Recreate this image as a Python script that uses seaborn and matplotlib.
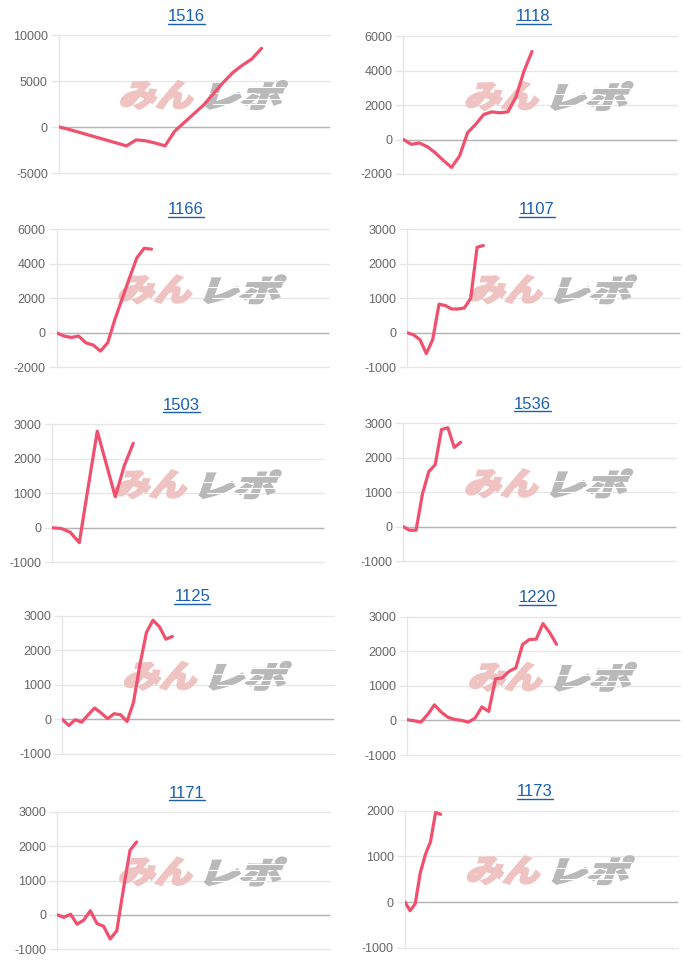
import numpy as np
import pandas as pd
import matplotlib
matplotlib.use("Agg")
import matplotlib.pyplot as plt
import seaborn as sns
from matplotlib.textpath import TextPath
from matplotlib.patches import PathPatch
from matplotlib.font_manager import FontProperties
from matplotlib.transforms import Affine2D, IdentityTransform
from matplotlib.lines import Line2D

sns.set_theme(style="white")
plt.rcParams["font.family"] = ["Liberation Sans", "DejaVu Sans"]

# ---------------- data ----------------
titles = ["1516", "1118", "1166", "1107", "1503", "1536", "1125", "1220", "1171", "1173"]

v1516 = [0, -250, -550, -850, -1150, -1450, -1750, -2050, -1400, -1500, -1750, -2050,
         -450, 500, 1450, 2400, 3600, 4800, 5900, 6700, 7400, 8550]
v1118 = [0, -280, -200, -420, -780, -1220, -1620, -950, 400, 880, 1450, 1600, 1550,
         1600, 2450, 3950, 5100]
v1166 = [0, -190, -270, -190, -580, -710, -1060, -580, 800, 2000, 3200, 4350, 4900, 4850]
v1107 = [0, -60, -200, -600, -200, 830, 790, 690, 690, 720, 1000, 2480, 2530]
v1503 = [0, -20, -130, -430, 1200, 2800, 1850, 900, 1800, 2450]
v1536 = [0, -100, -100, 950, 1600, 1800, 2820, 2870, 2300, 2450]
v1125 = [0, -175, -10, -80, 135, 330, 185, 20, 165, 135, -60, 500, 1600, 2520, 2870,
         2680, 2320, 2400]
v1220 = [20, -10, -50, 170, 450, 240, 90, 30, 0, -50, 70, 390, 260, 1200, 1230, 1420,
         1520, 2200, 2340, 2350, 2800, 2540, 2200]
v1171 = [0, -70, 20, -270, -150, 120, -250, -330, -700, -460, 750, 1880, 2120]
v1173 = [0, -190, -40, 640, 1040, 1320, 1960, 1920]

series = [v1516, v1118, v1166, v1107, v1503, v1536, v1125, v1220, v1171, v1173]

y_ticks = [
    [-5000, 0, 5000, 10000],
    [-2000, 0, 2000, 4000, 6000],
    [-2000, 0, 2000, 4000, 6000],
    [-1000, 0, 1000, 2000, 3000],
    [-1000, 0, 1000, 2000, 3000],
    [-1000, 0, 1000, 2000, 3000],
    [-1000, 0, 1000, 2000, 3000],
    [-1000, 0, 1000, 2000, 3000],
    [-1000, 0, 1000, 2000, 3000],
    [-1000, 0, 1000, 2000],
]

# ---------------- layout (pixels) ----------------
W, H = 700, 964
x_span = [28.1, 34, 37.4, 43, 30.2, 42.8, 42, 40.2, 41.25, 53.5]
rects = [(59, 330, 35, 173), (403.3, 676.7, 36, 174),
         (56.7, 329.3, 229.3, 367.3), (407.3, 680, 229.3, 367.3),
         (52.3, 324, 424.3, 562.3), (403.3, 676, 423.3, 561.3),
         (62.3, 334.3, 615.7, 754), (407.3, 680, 616.7, 755),
         (57.3, 330, 811.7, 949.3), (405, 677.7, 810.7, 947.7)]
title_pos = [(186.7, 16.7), (533.3, 16.7), (185.7, 210), (536.7, 210),
             (181.7, 405), (532.7, 404), (192.3, 596.7), (537.3, 597.7),
             (186.7, 793.3), (535, 791.7)]

LINE_COLOR = "#f0506e"
GRID = "#e6e6e6"
ZERO = "#b4b4b4"
TITLE_COLOR = "#1a5fb4"

fig = plt.figure(figsize=(W / 100, H / 100), dpi=100)
fig.patch.set_facecolor("white")

jp_font = FontProperties(family="Noto Sans CJK JP", weight="heavy")


def word_patch(text, x0, x1, y0, y1, color):
    """Watermark word fitted to pixel box (display coords, y up)."""
    p = TextPath((0, 0), text, size=10, prop=jp_font)
    p = p.transformed(Affine2D().skew_deg(14, 0))
    ext = p.get_extents()
    tr = (Affine2D().translate(-ext.x0, -ext.y0)
          .scale((x1 - x0) / ext.width, (y1 - y0) / ext.height)
          .translate(x0, y0))
    return PathPatch(p.transformed(tr), facecolor=color, edgecolor=color,
                     linewidth=1.5, joinstyle="miter",
                     transform=IdentityTransform(), zorder=1.5, clip_on=False)


axes = []
for i, vals in enumerate(series):
    l, r, t, b = rects[i]
    ax = fig.add_axes([l / W, 1 - b / H, (r - l) / W, (b - t) / H])
    axes.append(ax)
    df = pd.DataFrame({"x": np.arange(len(vals)), "y": vals})
    sns.lineplot(data=df, x="x", y="y", ax=ax, color=LINE_COLOR, linewidth=2.3,
                 zorder=3)
    ticks = y_ticks[i]
    ax.set_ylim(ticks[0], ticks[-1])
    ax.set_xlim(0, x_span[i])
    ax.set_yticks(ticks)
    ax.set_yticklabels([str(v) for v in ticks])
    ax.set_xticks([])
    ax.set_xlabel("")
    ax.set_ylabel("")
    ax.yaxis.grid(True, color=GRID, linewidth=1)
    ax.set_axisbelow(True)
    ax.axhline(0, color=ZERO, linewidth=1, zorder=1)
    for s in ["top", "right", "bottom"]:
        ax.spines[s].set_visible(False)
    ax.spines["left"].set_color(GRID)
    ax.spines["left"].set_linewidth(1)
    ax.tick_params(axis="y", length=6, width=1, color=GRID, labelcolor="#666666",
                   labelsize=9, pad=2, left=True)
    for gl in ax.get_ygridlines():
        gl.set_clip_on(False)

    # watermark
    cx = (l + r) / 2 + 9.5
    cy = H - ((t + b) / 2 - 9)
    ax.add_patch(word_patch("みん", cx - 83, cx - 11, cy - 14, cy + 14, "#f0c3c3"))
    ax.add_patch(word_patch("レポ", cx + 2, cx + 83, cy - 14, cy + 14, "#b9b9b9"))
    for k, (dy, a, bb) in enumerate([(8, 0.25, 0.95), (2, 0.05, 0.6), (-4, 0.4, 1.0),
                                      (-9, 0.1, 0.75)]):
        ax.add_artist(Line2D([cx + 1 + 83 * a, cx + 1 + 83 * bb], [cy + dy, cy + dy],
                             color="white", linewidth=0.8,
                             transform=IdentityTransform(), zorder=1.6))

    tx, ty = title_pos[i]
    fig.text(tx / W, 1 - ty / H, titles[i], ha="center", va="center",
             fontsize=12, color=TITLE_COLOR)

fig.canvas.draw()
renderer = fig.canvas.get_renderer()
for txt in list(fig.texts):
    bb = txt.get_window_extent(renderer)
    yline = bb.y0 + 0.5
    fig.add_artist(Line2D([bb.x0, bb.x1], [yline, yline], color=TITLE_COLOR,
                          linewidth=1.0, transform=IdentityTransform()))

fig.savefig("out.png", dpi=100, facecolor="white")
